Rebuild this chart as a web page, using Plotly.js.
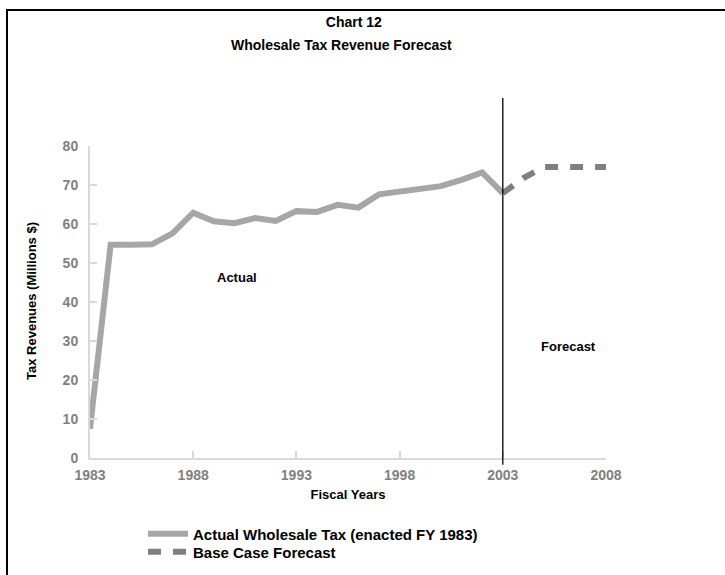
<!DOCTYPE html>
<html>
<head>
<meta charset="utf-8">
<script src="https://cdn.plot.ly/plotly-3.0.1.min.js"></script>
<style>
  html, body { margin: 0; padding: 0; background: #fff; }
  #wrap { position: relative; width: 725px; height: 575px; }
  #chart { width: 725px; height: 575px; }
  #frame { position: absolute; left: 6px; top: 9px; right: 0; bottom: 0;
           border-left: 2px solid #000; border-top: 2px solid #000; pointer-events: none; }
</style>
</head>
<body>
<div id="wrap"><div id="chart"></div><div id="frame"></div></div>
<script>
const actualYears = [1983,1984,1985,1986,1987,1988,1989,1990,1991,1992,1993,1994,1995,1996,1997,1998,1999,2000,2001,2002,2003];
const actualValues = [7.5,54.7,54.7,54.8,57.6,62.9,60.7,60.2,61.5,60.8,63.3,63.1,64.9,64.2,67.6,68.2,68.8,69.7,71.3,73.2,67.9];
const forecastYears = [2003,2004,2005,2006,2007,2008];
const forecastValues = [67.9,71.8,74.6,74.6,74.6,74.6];
const xTicks = [1983,1988,1993,1998,2003,2008];
const yTicks = [0,10,20,30,40,50,60,70,80];

const font = "Liberation Sans, Arial, sans-serif";

const traces = [
  { x: actualYears, y: actualValues, type: 'scatter', mode: 'lines',
    name: 'Actual Wholesale Tax (enacted FY 1983)', legend: 'legend',
    line: { color: '#a6a6a6', width: 6 }, cliponaxis: false },
  { x: forecastYears, y: forecastValues, type: 'scatter', mode: 'lines',
    name: 'Base Case Forecast', legend: 'legend2',
    line: { color: '#7f7f7f', width: 6, dash: '13px,12px' }, cliponaxis: false }
];

function legendAt(py) {
  return {
    xref: 'container', yref: 'container',
    x: 143 / 725, y: 1 - py / 575, xanchor: 'left', yanchor: 'middle',
    orientation: 'v', itemwidth: 40,
    font: { family: font, size: 15, color: '#000', weight: 'bold' },
    bgcolor: 'rgba(0,0,0,0)'
  };
}

const plotTop = 146, plotBottom = 575 - 117, plotLeft = 90, plotW = 725 - 90 - 119;
const plotH = plotBottom - plotTop;

const layout = {
  width: 725, height: 575,
  margin: { l: 90, r: 119, t: 146, b: 117, autoexpand: false },
  paper_bgcolor: '#fff', plot_bgcolor: '#fff',
  showlegend: true,
  title: { text: '<b>Chart 12</b>',
           font: { family: font, size: 14, color: '#000' },
           x: 0.488, xanchor: 'center', y: 0.962, yanchor: 'middle' },
  xaxis: {
    range: [1983, 2008], tickvals: xTicks, ticktext: xTicks.map(String),
    showgrid: false, zeroline: false, showline: true, linecolor: '#d9d9d9', linewidth: 2,
    ticks: 'inside', ticklen: 7, tickcolor: '#d9d9d9', tickwidth: 2, ticklabelstandoff: 3,
    tickfont: { family: font, size: 14, color: '#808080', weight: 'bold' },
    title: { text: '<b>Fiscal Years</b>', font: { family: font, size: 13, color: '#000' }, standoff: 8 }
  },
  yaxis: {
    range: [0, 80], tickvals: yTicks,
    showgrid: false, zeroline: false, showline: true, linecolor: '#d9d9d9', linewidth: 2,
    ticks: 'inside', ticklen: 7, tickcolor: '#d9d9d9', tickwidth: 2, ticklabelstandoff: 7,
    tickfont: { family: font, size: 14, color: '#808080', weight: 'bold' }
  },
  legend: legendAt(534),
  legend2: legendAt(552),
  shapes: [
    { type: 'line', xref: 'x', yref: 'paper', x0: 2003, x1: 2003, y0: -0.022, y1: 1.154,
      line: { color: '#000', width: 1.3 } }
  ],
  annotations: [
    { x: 0.488, y: (plotBottom - 45) / plotH, xref: 'paper', yref: 'paper', yanchor: 'middle',
      text: '<b>Wholesale Tax Revenue Forecast</b>', showarrow: false,
      font: { family: font, size: 14, color: '#000' } },
    { x: (31.5 - plotLeft) / plotW, y: (plotBottom - 301.5) / plotH, xref: 'paper', yref: 'paper',
      xanchor: 'center', yanchor: 'middle', textangle: -90,
      text: '<b>Tax Revenues (Millions $)</b>', showarrow: false,
      font: { family: font, size: 13, color: '#000' } },
    { x: 1990.14, y: 46.2, xref: 'x', yref: 'y', text: '<b>Actual</b>', showarrow: false,
      font: { family: font, size: 13, color: '#000' } },
    { x: 2006.16, y: 28.5, xref: 'x', yref: 'y', text: '<b>Forecast</b>', showarrow: false,
      font: { family: font, size: 13, color: '#000' } }
  ]
};

Plotly.newPlot('chart', traces, layout, { displayModeBar: false, staticPlot: true });
</script>
</body>
</html>
